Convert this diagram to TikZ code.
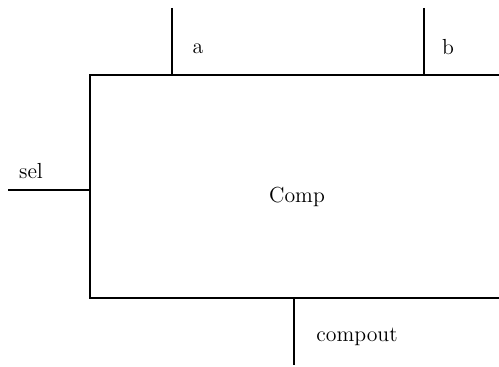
\documentclass[tikz,border=0pt]{standalone}
\usepackage{tikz}
\usetikzlibrary{positioning, calc}

\begin{document}
\begin{tikzpicture}[
    x=0.02cm, y=-0.02cm,
    block/.style={draw=black, line width=1.1pt, minimum width=8.8cm, minimum height=4.46cm, inner sep=0pt},
    wire/.style={draw=black, line width=1.1pt},
    lbl/.style={font=\fontsize{12.4}{14}\selectfont, inner sep=0pt}
  ]
    \clip (0,0) rectangle (499,367);

    % Block
    \node[block] (comp) at (310,186.5) {};
    \node[lbl] (compname) at (297,197) {Comp};

    % Free ends of the ports
    \coordinate (aend) at (172,8);
    \coordinate (bend) at (424,8);
    \coordinate (selend) at (8,190);
    \coordinate (outend) at (294,365);

    % Inputs (top)
    \draw[wire] (aend) -- (aend |- comp.north);
    \draw[wire] (bend) -- (bend |- comp.north);
    \node[lbl] (alabel) at (198,49) {a};
    \node[lbl] (blabel) at (448,47) {b};

    % Select (left)
    \draw[wire] (selend) -- (selend -| comp.west);
    \node[lbl] (sellabel) at (31,171) {sel};

    % Output (bottom)
    \draw[wire] (comp.south -| outend) -- (outend);
    \node[lbl] (outlabel) at (357,337) {compout};
  \end{tikzpicture}
\end{document}
